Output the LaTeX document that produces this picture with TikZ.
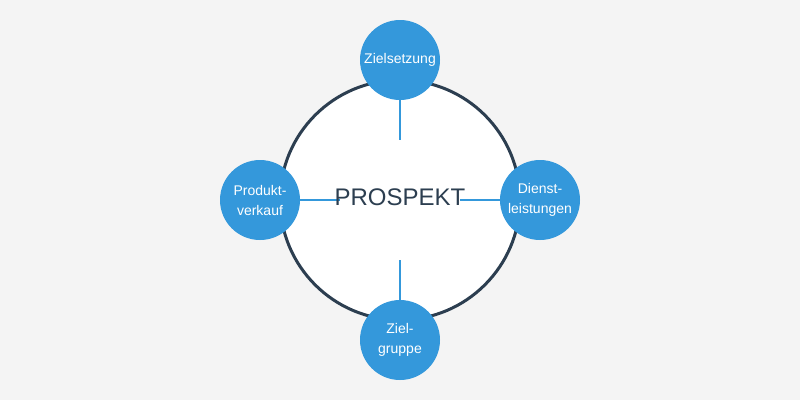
\documentclass[tikz,border=0pt]{standalone}
\usepackage{fontspec}
\setmainfont{Liberation Sans}
\definecolor{bgray}{HTML}{F4F4F4}
\definecolor{dblue}{HTML}{2C3E50}
\definecolor{lblue}{HTML}{3498DB}
\tikzset{
  topic/.style={circle, fill=lblue, minimum size=60pt, inner sep=0pt, text=white, align=center,
    font=\fontsize{10.5}{15}\selectfont},
  spoke/.style={draw=lblue, line width=1.5pt}
}
\begin{document}
\begin{tikzpicture}[x=0.75pt,y=-0.75pt]
\newcommand\cx{400}
\newcommand\cy{200}
\newcommand\mainrad{120}
\newcommand\dist{140}
% background
\fill[bgray] (0,0) rectangle (800,400);
\useasboundingbox (0,0) rectangle (800,400);

\draw[dblue, fill=white, line width=2.25pt] (\cx,\cy) circle (\mainrad*0.75pt);

% small circles
\node[topic] (ziel) at (\cx,\cy-\dist) {Zielsetzung};
\node[topic] (dienst) at (\cx+\dist,\cy) {Dienst-\\leistungen};
\node[topic] (gruppe) at (\cx,\cy+\dist) {Ziel-\\gruppe};
\node[topic] (produkt) at (\cx-\dist,\cy) {Produkt-\\verkauf};

\coordinate (zielend) at (\cx,\cy-60);
\coordinate (dienstend) at (\cx+60,\cy);
\coordinate (gruppeend) at (\cx,\cy+60);
\coordinate (produktend) at (\cx-60,\cy);

\foreach \n in {ziel,dienst,gruppe,produkt}{
\draw[spoke] (\n) -- (\n end);
}

\node[text=dblue, font=\fontsize{18}{20}\selectfont, inner sep=0pt] (prospekt) at (\cx,\cy-3) {PROSPEKT};

\end{tikzpicture}
\end{document}
